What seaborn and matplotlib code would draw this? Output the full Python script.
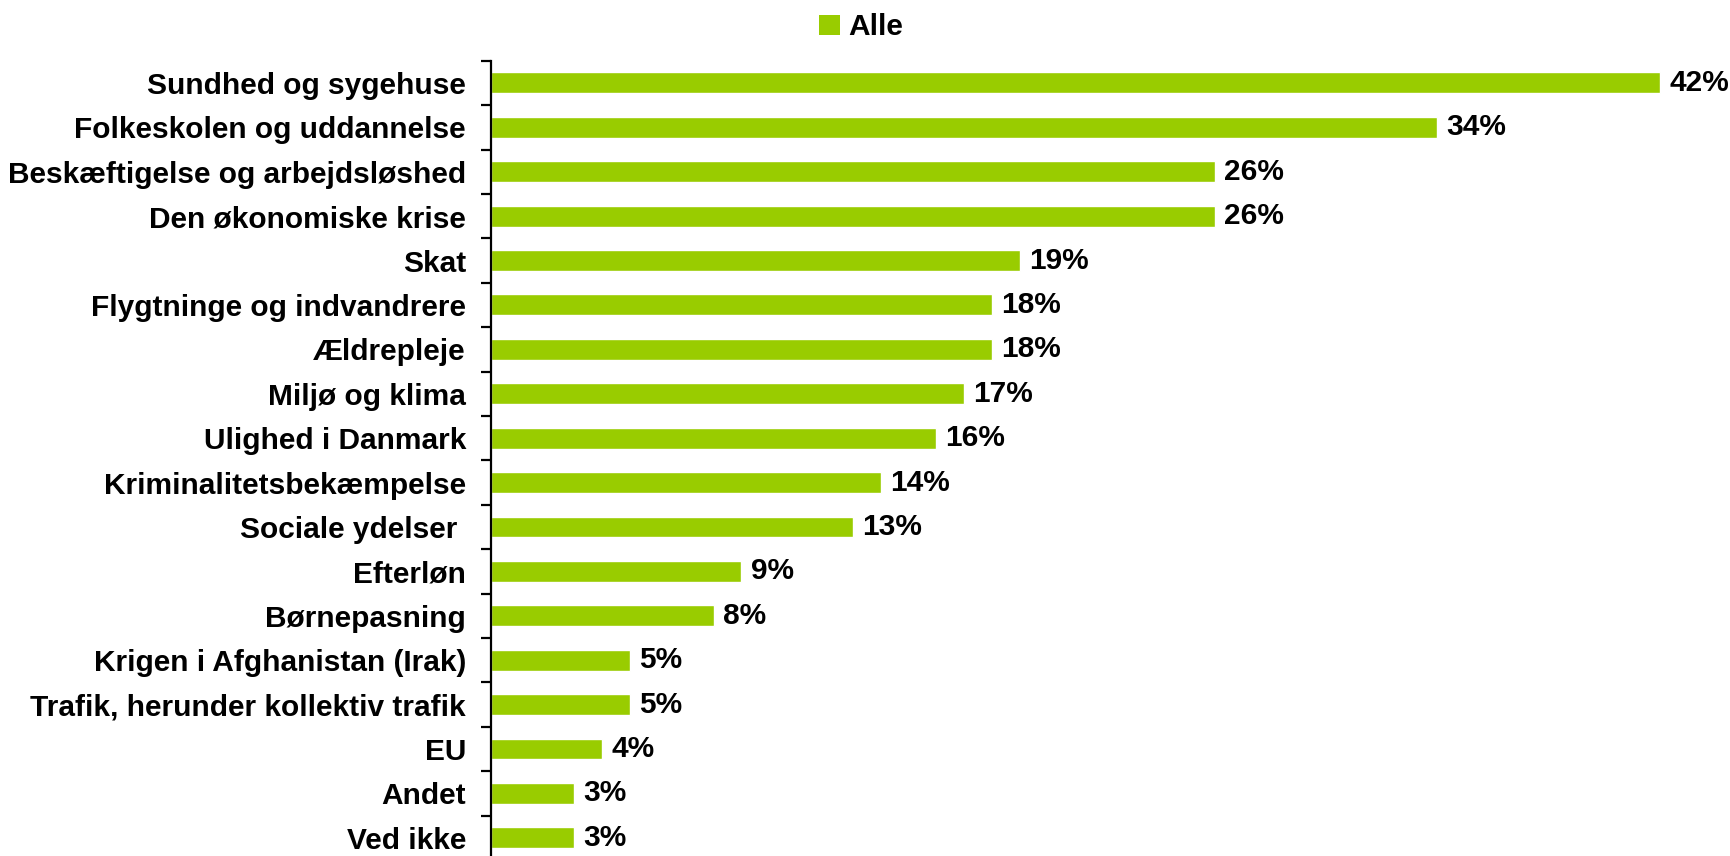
import numpy as np
import pandas as pd
import matplotlib
matplotlib.use('Agg')
import matplotlib.pyplot as plt
import seaborn as sns
from matplotlib.patches import Patch

# data
categories = ['Sundhed og sygehuse', 'Folkeskolen og uddannelse',
              'Beskæftigelse og arbejdsløshed', 'Den økonomiske krise', 'Skat',
              'Flygtninge og indvandrere', 'Ældrepleje', 'Miljø og klima',
              'Ulighed i Danmark', 'Kriminalitetsbekæmpelse', 'Sociale ydelser ',
              'Efterløn', 'Børnepasning', 'Krigen i Afghanistan (Irak)',
              'Trafik, herunder kollektiv trafik', 'EU', 'Andet', 'Ved ikke']
values = [42, 34, 26, 26, 19, 18, 18, 17, 16, 14, 13, 9, 8, 5, 5, 4, 3, 3]
series_name = 'Alle'

green = '#99CC00'

sns.set_style('white')
plt.rcParams['font.family'] = ['Liberation Sans', 'DejaVu Sans']
plt.rcParams['font.weight'] = 'bold'
plt.rcParams['text.color'] = 'black'
plt.rcParams['ytick.color'] = 'black'
plt.rcParams['ytick.labelcolor'] = 'black'

df = pd.DataFrame({'kategori': categories, 'pct': values})

fig = plt.figure(figsize=(17.3, 8.56), dpi=100)
ax = fig.add_axes([0.2838, -0.0047, 0.7162, 0.9338])

sns.barplot(data=df, y='kategori', x='pct', color=green, width=0.47,
            saturation=1, ax=ax, orient='h')

ax.set_xlim(0, 44.52)
ax.set_ylim(len(categories) - 0.5, -0.5)
ax.set_xlabel('')
ax.set_ylabel('')
ax.set_xticks([])

for s in ['top', 'right', 'bottom']:
    ax.spines[s].set_visible(False)
ax.spines['left'].set_linewidth(1.6)
ax.spines['left'].set_color('black')

# labels at bar centres, tick marks between categories
ax.tick_params(axis='y', which='major', left=True, length=0, pad=18,
               labelsize=21.5, labelcolor='black')
ax.set_yticks(np.arange(-0.5, len(categories) + 0.5, 1), minor=True)
ax.tick_params(axis='y', which='minor', left=True, length=7.2, width=1.6,
               color='black', direction='out')
for lab in ax.get_yticklabels():
    lab.set_fontweight('bold')
    lab.set_color('black')

for i, v in enumerate(values):
    ax.text(v + 0.33, i, f'{v}%', va='center', ha='left', fontsize=21.5,
            fontweight='bold', color='black', clip_on=False)

handle = Patch(facecolor=green, edgecolor='none')
leg = fig.legend([handle], [series_name], loc='center', bbox_to_anchor=(0.498, 0.968),
                 frameon=False, handlelength=0.68, handleheight=0.68,
                 handletextpad=0.3, prop={'weight': 'bold', 'size': 21.5})
for t in leg.get_texts():
    t.set_color('black')

fig.savefig('out.png', dpi=100)
